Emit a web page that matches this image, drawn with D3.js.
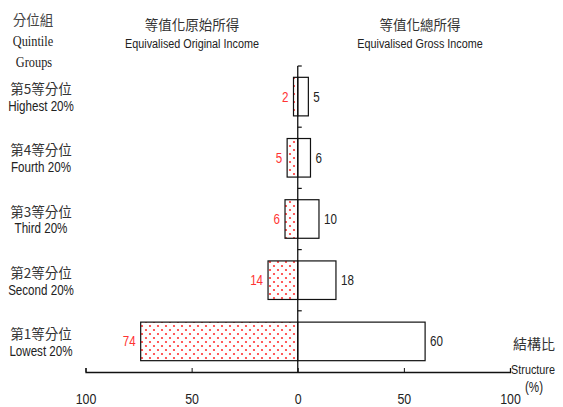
<!DOCTYPE html>
<html><head><meta charset="utf-8">
<script src="https://cdn.jsdelivr.net/npm/d3@7"></script>
<style>
body{margin:0;background:#fff;}
svg{display:block;}
.nar{font-family:"Liberation Sans Narrow","Arial Narrow","Liberation Sans",sans-serif;}
.cjk{font-family:"Noto Sans CJK TC","Noto Sans CJK SC",sans-serif;}
.ser{font-family:"Liberation Serif","Noto Sans CJK TC",serif;}
</style></head>
<body><div id="chart"></div>
<script>
const categories = ["第5等分位","第4等分位","第3等分位","第2等分位","第1等分位"];
const categoriesEn = ["Highest 20%","Fourth 20%","Third 20%","Second 20%","Lowest 20%"];
const originalIncome = [2,5,6,14,74];
const grossIncome = [5,6,10,18,60];
const xTicks = [-100,-50,0,50,100];

const W=563,H=407;
const svg=d3.select("#chart").append("svg").attr("width",W).attr("height",H);
const defs=svg.append("defs");
const pat=defs.append("pattern").attr("id","dots").attr("patternUnits","userSpaceOnUse")
  .attr("width",8).attr("height",8);
pat.append("rect").attr("width",8).attr("height",8).attr("fill","#fff");
pat.append("circle").attr("cx",2).attr("cy",2).attr("r",1.1).attr("fill","#f33");
pat.append("circle").attr("cx",6).attr("cy",6).attr("r",1.1).attr("fill","#f33");

const x=d3.scaleLinear().domain([-100,100]).range([85.5,510]);
const y=d3.scaleBand().domain(categories).range([66,372]).paddingInner(0.37).paddingOuter(0.185);
const x0=x(0);

const data=categories.map((c,i)=>({c,en:categoriesEn[i],o:originalIncome[i],g:grossIncome[i]}));

// bars
svg.selectAll(".bo").data(data).join("rect").attr("class","bo")
  .attr("x",d=>x(-d.o)).attr("y",d=>y(d.c)).attr("width",d=>x0-x(-d.o)).attr("height",y.bandwidth())
  .attr("fill","url(#dots)").attr("stroke","#111").attr("stroke-width",1.2);
svg.selectAll(".bg").data(data).join("rect").attr("class","bg")
  .attr("x",x0).attr("y",d=>y(d.c)).attr("width",d=>x(d.g)-x0).attr("height",y.bandwidth())
  .attr("fill","#fff").attr("stroke","#111").attr("stroke-width",1.2);

// x axis
const ax=svg.append("g").attr("transform","translate(0,372)")
  .call(d3.axisBottom(x).tickValues(xTicks).tickSizeInner(-4).tickSizeOuter(-4).tickPadding(21).tickFormat(d=>Math.abs(d)));
ax.select(".domain").attr("stroke","#111").attr("stroke-width",1.3);
ax.selectAll(".tick line").attr("stroke","#111");
ax.selectAll(".tick text").attr("class","nar").attr("font-size",15.5).attr("fill","#222");

// vertical axis
svg.append("line").attr("x1",x0).attr("x2",x0).attr("y1",66).attr("y2",372).attr("stroke","#111").attr("stroke-width",1.3);
const bounds=d3.range(categories.length).map(i=>66+i*y.step());
svg.selectAll(".vt").data(bounds).join("line").attr("class","vt")
  .attr("x1",x0).attr("x2",x0+4).attr("y1",d=>d).attr("y2",d=>d).attr("stroke","#111").attr("stroke-width",1.2);

// value labels
svg.selectAll(".lo").data(data).join("text").attr("class","nar lo")
  .attr("x",d=>x(-d.o)-5).attr("y",d=>y(d.c)+y.bandwidth()/2+5).attr("text-anchor","end")
  .attr("font-size",14.5).attr("fill","#f33").text(d=>d.o);
svg.selectAll(".lg").data(data).join("text").attr("class","nar lg")
  .attr("x",d=>x(d.g)+5).attr("y",d=>y(d.c)+y.bandwidth()/2+5)
  .attr("font-size",14.5).attr("fill","#222").text(d=>d.g);

// category labels
svg.selectAll(".cc").data(data).join("text").attr("class","cjk cc")
  .attr("x",41).attr("y",d=>y(d.c)+y.bandwidth()/2-2.5).attr("text-anchor","middle")
  .attr("font-size",13.5).attr("fill","#333").text(d=>d.c);
svg.selectAll(".ce").data(data).join("text").attr("class","nar ce")
  .attr("x",41).attr("y",d=>y(d.c)+y.bandwidth()/2+14.5).attr("text-anchor","middle")
  .attr("font-size",14.5).attr("fill","#222").text(d=>d.en);

// headers
const t=(txt,cx,cy,cls,fs,fill)=>svg.append("text").attr("class",cls).attr("x",cx).attr("y",cy)
  .attr("text-anchor","middle").attr("font-size",fs).attr("fill",fill||"#333").text(txt);
t("分位組",33,25,"cjk",13.5,"#444");
t("Quintile",33,46,"ser",14.5,"#222");
t("Groups",34,67,"ser",14.5,"#222");
t("等值化原始所得",192,30,"cjk",13.5);
t("Equivalised Original Income",192,48,"nar",13.5,"#222");
t("等值化總所得",420,30,"cjk",13.5);
t("Equivalised Gross Income",420,48,"nar",13.5,"#222");
t("結構比",534,349,"cjk",14);
t("Structure",533,374,"nar",13.5,"#222");
t("(%)",534,392,"nar",14.5,"#222");

// condense the Latin texts (narrow typeface look) with a horizontal scale about each text's anchor
function condense(sel,k){
  sel.each(function(){
    const ox=+this.getAttribute("x")||0;
    const prev=this.getAttribute("transform")||"";
    this.setAttribute("transform",prev+` translate(${ox},0) scale(${k},1) translate(${-ox},0)`);
  });
}
condense(svg.selectAll("text.nar"),0.8);
condense(svg.selectAll("text.ser"),0.85);
</script></body></html>
